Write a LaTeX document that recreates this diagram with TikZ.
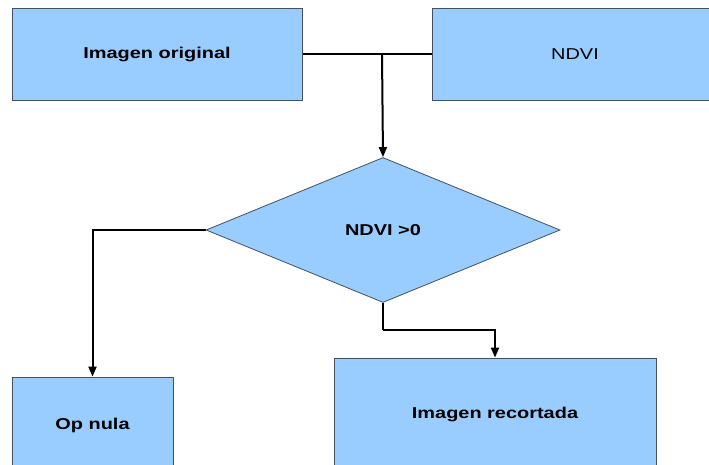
\documentclass[tikz,border=0pt]{standalone}
\usepackage{fontspec}
\usepackage{graphicx}
\setmainfont{Liberation Sans}
\usepackage{tikz}
\usetikzlibrary{shapes.geometric}
\usetikzlibrary{arrows.meta}
\pgfdeclarelayer{edgelayer}
\pgfdeclarelayer{nodelayer}
\pgfsetlayers{edgelayer,nodelayer,main}
\definecolor{boxblue}{RGB}{153,204,255}
\definecolor{boxline}{RGB}{70,80,95}
\tikzstyle{none}=[inner sep=0pt]
\tikzstyle{box}=[rectangle, fill=boxblue, draw=boxline, line width=0.8pt, font=\fontsize{15.7}{18}\selectfont]
\tikzstyle{decision}=[diamond, fill=boxblue, draw=boxline, line width=0.8pt, inner sep=0pt, font=\fontsize{15.7}{18}\selectfont]
\tikzstyle{link}=[line width=2pt, black]
\newcommand{\widetxt}[1]{\scalebox{1.27}[1]{#1}}

\begin{document}
\begin{tikzpicture}[x=1pt, y=-1pt, >={Triangle[length=10pt,width=8pt]}]
    \useasboundingbox (0, 0) rectangle (709, 465);
    \clip (0, 0) rectangle (709, 465);
    \begin{pgfonlayer}{nodelayer}
	\node [style=box, minimum width=290pt, minimum height=92pt] (0) at (157, 54) {\widetxt{\bfseries Imagen original}};
	\node [style=box, minimum width=286pt, minimum height=92pt] (1) at (575, 54) {\widetxt{NDVI}};
	\node [style=decision, minimum width=354pt, minimum height=145pt] (2) at (383, 230) {\widetxt{\bfseries NDVI >0}};
	\node [style=box, minimum width=161pt, minimum height=96pt] (3) at (92.5, 425) {\widetxt{\bfseries Op nula}};
	\node [style=box, minimum width=322pt, minimum height=112pt] (4) at (495, 414) {\widetxt{\bfseries Imagen recortada}};
	\coordinate (5) at (382, 54);
	\coordinate (6) at (383, 330);
    \end{pgfonlayer}
    \begin{pgfonlayer}{edgelayer}
	\draw [style=link] (0.east) to (1.west);
	\draw [style=link, ->] (5) to (2.north);
	\draw [style=link, ->] (2.west) -| (3.north);
	\draw [style=link] (2.south) to (6);
	\draw [style=link, ->] (6) -| (4.north);
    \end{pgfonlayer}
\end{tikzpicture}
\end{document}
